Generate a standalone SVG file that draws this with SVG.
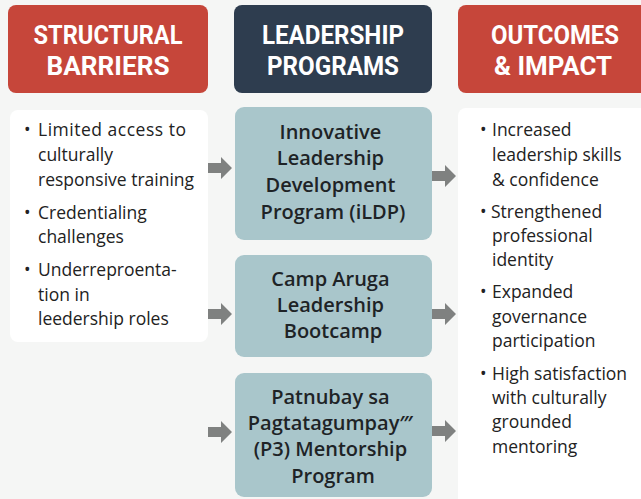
<svg xmlns="http://www.w3.org/2000/svg" width="641" height="499" viewBox="0 0 641 499">
<style>
.hdr{font-family:Roboto,"Liberation Sans",sans-serif;font-weight:700;font-size:26px;fill:#fff;text-anchor:middle}
.body{font-family:"Open Sans","Noto Sans",sans-serif;font-size:17.5px;fill:#222}
.prog{font-family:"Open Sans","Noto Sans",sans-serif;font-weight:600;font-size:20px;fill:#1e2326;text-anchor:middle}
.red{fill:#C6463A}
.navy{fill:#2E3D4F}
.panel{fill:#FFFFFF}
.pbox{fill:#A9C6CB}
.arr{fill:#7F8180}
</style>
<defs>
<path id="arrow" d="M0,-5 L13,-5 L13,-11 L24,0 L13,11 L13,5 L0,5 Z"/>
</defs>
<rect width="641" height="499" fill="#F5F6F5"/>

<g id="hdr-barriers">
<rect class="red" x="8" y="5" width="200" height="88" rx="8"/>
<text class="hdr" x="108" y="44" textLength="149" lengthAdjust="spacingAndGlyphs">STRUCTURAL</text>
<text class="hdr" x="108" y="75" textLength="123" lengthAdjust="spacingAndGlyphs">BARRIERS</text>
</g>
<g id="hdr-programs">
<rect class="navy" x="234" y="5" width="198" height="88" rx="8"/>
<text class="hdr" x="333" y="44" textLength="142" lengthAdjust="spacingAndGlyphs">LEADERSHIP</text>
<text class="hdr" x="333" y="75" textLength="132" lengthAdjust="spacingAndGlyphs">PROGRAMS</text>
</g>
<g id="hdr-outcomes">
<rect class="red" x="458" y="5" width="195" height="88" rx="8"/>
<text class="hdr" x="555" y="44" textLength="128" lengthAdjust="spacingAndGlyphs">OUTCOMES</text>
<text class="hdr" x="553" y="75" textLength="118" lengthAdjust="spacingAndGlyphs">&amp; IMPACT</text>
</g>

<g id="barriers">
<rect class="panel" x="10" y="110" width="198" height="232" rx="8"/>
<text class="body">
<tspan x="24" y="136">•</tspan><tspan x="38" y="136" textLength="148">Limited access to</tspan>
<tspan x="38" y="161">culturally</tspan>
<tspan x="38" y="186">responsive training</tspan>
<tspan x="24" y="219">•</tspan><tspan x="38" y="219">Credentialing</tspan>
<tspan x="38" y="243">challenges</tspan>
<tspan x="24" y="276">•</tspan><tspan x="38" y="276">Underreproenta-</tspan>
<tspan x="38" y="301">tion in</tspan>
<tspan x="38" y="325">leedership roles</tspan>
</text>
</g>

<g id="ildp">
<rect class="pbox" x="235" y="107" width="197" height="133" rx="9"/>
<text class="prog">
<tspan x="333" y="139">Innovative</tspan>
<tspan x="333" y="165">Leadership</tspan>
<tspan x="333" y="192">Development</tspan>
<tspan x="333" y="219">Program (iLDP)</tspan>
</text>
</g>
<g id="camp-aruga">
<rect class="pbox" x="235" y="255" width="197" height="102" rx="9"/>
<text class="prog">
<tspan x="333" y="286">Camp Aruga</tspan>
<tspan x="333" y="312">Leadership</tspan>
<tspan x="333" y="338">Bootcamp</tspan>
</text>
</g>
<g id="p3">
<rect class="pbox" x="235" y="373" width="197" height="124" rx="9"/>
<text class="prog">
<tspan x="333" y="404">Patnubay sa</tspan>
<tspan x="333" y="430">Pagtatagumpay‴</tspan>
<tspan x="333" y="456">(P3) Mentorship</tspan>
<tspan x="333" y="483">Program</tspan>
</text>
</g>

<g id="outcomes">
<rect class="panel" x="458" y="108" width="195" height="400" rx="8"/>
<text class="body">
<tspan x="480" y="136">•</tspan><tspan x="492" y="136">Increased</tspan>
<tspan x="492" y="161">leadership skills</tspan>
<tspan x="492" y="186">&amp; confidence</tspan>
<tspan x="480" y="218">•</tspan><tspan x="491" y="218">Strengthened</tspan>
<tspan x="492" y="242">professional</tspan>
<tspan x="492" y="266">identity</tspan>
<tspan x="480" y="298">•</tspan><tspan x="492" y="298">Expanded</tspan>
<tspan x="492" y="323">governance</tspan>
<tspan x="492" y="347">participation</tspan>
<tspan x="480" y="380">•</tspan><tspan x="492" y="380">High satisfaction</tspan>
<tspan x="492" y="404">with culturally</tspan>
<tspan x="492" y="428">grounded</tspan>
<tspan x="492" y="453">mentoring</tspan>
</text>
</g>

<g id="connectors" class="arr">
<use href="#arrow" x="208" y="168"/>
<use href="#arrow" x="208" y="314"/>
<use href="#arrow" x="208" y="432"/>
<use href="#arrow" x="432" y="176"/>
<use href="#arrow" x="432" y="314"/>
<use href="#arrow" x="432" y="431"/>
</g>
</svg>
